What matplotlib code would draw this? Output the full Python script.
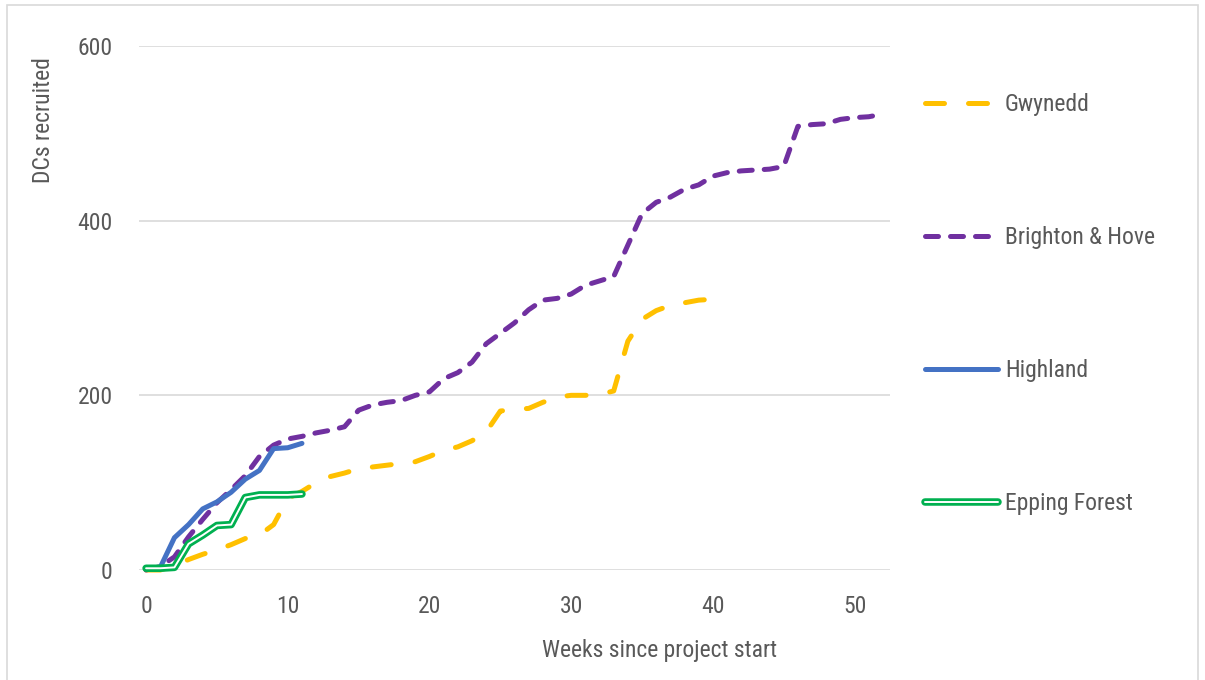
import matplotlib
matplotlib.use("Agg")
import matplotlib.pyplot as plt
import matplotlib.patheffects as pe
from matplotlib.patches import Rectangle

# cumulative DCs recruited, one value per week since project start
gwynedd = [0, 0, 5, 12, 18, 23, 29, 36, 40, 52, 82, 90, 100, 107, 111, 116, 118, 120,
           122, 124, 130, 137, 141, 148, 158, 182, 184, 185, 192, 198, 200, 200, 201,
           205, 262, 287, 297, 303, 306, 309, 310, 312]
brighton_hove = [0, 4, 15, 38, 58, 77, 92, 108, 130, 143, 150, 153, 157, 160, 164, 183,
                 189, 192, 194, 200, 204, 219, 226, 238, 259, 271, 283, 298, 309, 311,
                 316, 326, 331, 336, 372, 408, 421, 427, 436, 441, 451, 455, 457, 458,
                 459, 462, 508, 510, 511, 516, 518, 519, 522]
highland = [2, 3, 37, 52, 70, 78, 89, 104, 114, 139, 140, 145]
epping_forest = [2, 2, 3, 30, 40, 51, 52, 83, 86, 86, 86, 87]

series_names = ["Gwynedd", "Brighton & Hove", "Highland", "Epping Forest"]
x_ticks = [0, 10, 20, 30, 40, 50]
y_ticks = [0, 200, 400, 600]

text_color = "#595959"
grid_color = "#D9D9D9"
fs = 17

plt.rcParams["font.family"] = ["Roboto Condensed", "Liberation Sans", "DejaVu Sans"]
plt.rcParams["font.size"] = fs

W, H = 1205, 680
fig = plt.figure(figsize=(W / 100, H / 100), dpi=100)
ax = fig.add_axes([139 / W, 1 - 570 / H, 751 / W, 524 / H])

lw = 3.6
ax.plot(range(len(gwynedd)), gwynedd, color="#FFC000", lw=lw, dashes=(3.8, 4.8),
        dash_capstyle="round", solid_joinstyle="round", clip_on=False,
        label=series_names[0], zorder=3)
ax.plot(range(len(brighton_hove)), brighton_hove, color="#7030A0", lw=lw,
        dashes=(2.6, 2.4), dash_capstyle="round", solid_joinstyle="round",
        clip_on=False, label=series_names[1], zorder=4)
ax.plot(range(len(highland)), highland, color="#4472C4", lw=lw,
        solid_capstyle="round", solid_joinstyle="round", clip_on=False,
        label=series_names[2], zorder=5)
# double line: thick green stroke with a thin white core
ax.plot(range(len(epping_forest)), epping_forest, color="white", lw=1.4,
        solid_capstyle="round", solid_joinstyle="round", clip_on=False,
        label=series_names[3], zorder=6,
        path_effects=[pe.Stroke(linewidth=5.4, foreground="#00B050",
                                capstyle="round", joinstyle="round"),
                      pe.Normal()])

ax.set_xlim(-0.5, 52.5)
ax.set_ylim(0, 600)
ax.set_xticks(x_ticks)
ax.set_yticks(y_ticks)
ax.grid(axis="y", color=grid_color, lw=1.2)
ax.set_axisbelow(True)
for s in ax.spines.values():
    s.set_visible(False)
ax.tick_params(length=0, colors=text_color, labelsize=fs)
ax.tick_params(axis="y", pad=19)
ax.tick_params(axis="x", pad=18)

fig.text(660 / W, 1 - 650 / H, "Weeks since project start", color=text_color,
         fontsize=fs, ha="center", va="center")
fig.text(44 / W, 1 - 120 / H, "DCs recruited", color=text_color, fontsize=fs,
         rotation=90, ha="center", va="center")

fig.legend(loc="upper left", bbox_to_anchor=(925 / W, 1 - 93 / H), frameon=False,
           borderpad=0, borderaxespad=0, handlelength=3.09, handletextpad=0.3,
           labelspacing=4.66, fontsize=fs, labelcolor=text_color)

fig.add_artist(Rectangle((7 / W, -0.1), 1191 / W, 1.1 - 5 / H, transform=fig.transFigure,
                         fill=False, edgecolor=grid_color, lw=1.2))

fig.savefig("out.png", dpi=100)
